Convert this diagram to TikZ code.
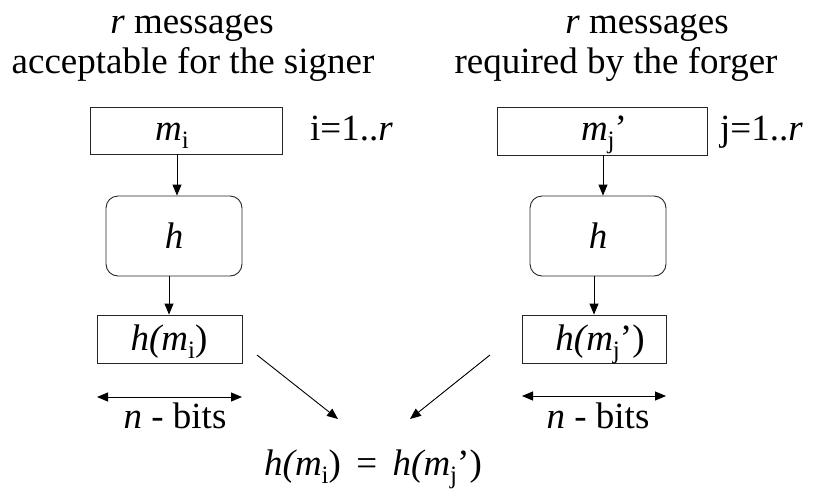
\documentclass[tikz,border=0pt]{standalone}
\usepackage{fontspec}
\setmainfont{Liberation Serif}
\usetikzlibrary{arrows.meta}
\newcommand{\bigfont}{\fontsize{37}{40}\selectfont}
\newcommand{\sbs}[1]{\raisebox{-8pt}{\fontsize{25}{25}\selectfont #1}}
\begin{document}
\begin{tikzpicture}[x=1pt,y=-1pt,
  txt/.style={font=\bigfont, inner sep=0pt, anchor=base},
  box/.style={draw=black!85, line width=0.9pt, inner sep=0pt},
  hbox/.style={box, rounded corners=12pt, minimum width=136pt, minimum height=80pt},
  arr/.style={line width=0.9pt, -{Triangle[length=11pt,width=9pt]}},
  darr/.style={line width=0.9pt, {Triangle[length=11pt,width=9pt]}-{Triangle[length=11pt,width=9pt]}}]
\useasboundingbox (0,0) rectangle (816,491);

% column headings
\node[txt] (tl1) at (192,33) {\textit{r} messages};
\node[txt] (tl2) at (193,73) {acceptable for the signer};
\node[txt] (tr1) at (647,33) {\textit{r} messages};
\node[txt] (tr2) at (616,73) {required by the forger};

% left chain: message, hash, digest
\node[box, minimum width=192pt, minimum height=47pt] (mL) at (186,130.5) {};
\node[txt] (mLt) at (172,140) {\textit{m}\sbs{i}};
\node[txt, anchor=base west] (iL) at (310,140) {i=1..\textit{r}};
\node[hbox] (hL) at (174,236) {};
\node[txt] (hLt) at (174,248) {\textit{h}};
\node[box, minimum width=145pt, minimum height=48pt] (dL) at (169.5,339) {};
\node[txt] (dLt) at (169,350) {\textit{h(m}\sbs{i})};

% right chain: message, hash, digest
\node[box, minimum width=210pt, minimum height=48pt] (mR) at (602,131) {};
\node[txt] (mRt) at (604,140) {\textit{m}\sbs{j}’};
\node[txt, anchor=base west] (jR) at (720,140) {j=1..\textit{r}};
\node[hbox] (hR) at (598,236) {};
\node[txt] (hRt) at (598,248) {\textit{h}};
\node[box, minimum width=144pt, minimum height=48pt] (dR) at (594,339) {};
\node[txt] (dRt) at (600,350) {\textit{h(m}\sbs{j}’)};

% vertical flow
\coordinate (xL1) at (177,0);
\coordinate (xL2) at (169,0);
\coordinate (xR1) at (603,0);
\coordinate (xR2) at (594,0);
\draw[arr] (mL.south -| xL1) -- (hL.north -| xL1);
\draw[arr] (hL.south -| xL2) -- (dL.north -| xL2);
\draw[arr] (mR.south -| xR1) -- (hR.north -| xR1);
\draw[arr] (hR.south -| xR2) -- (dR.north -| xR2);

% digest widths
\coordinate (wL1) at (97,397);
\coordinate (wL2) at (242,397);
\coordinate (wR1) at (522,396);
\coordinate (wR2) at (666,396);
\draw[darr] (wL1) -- (wL2);
\draw[darr] (wR1) -- (wR2);
\node[txt] (bL) at (175,428) {\textit{n} - bits};
\node[txt] (bR) at (598,428) {\textit{n} - bits};

% collision
\node[txt] (eq) at (373,475) {\textit{h(m}\sbs{i}) \,=\, \textit{h(m}\sbs{j}’)};
\coordinate (aL1) at (257,355);
\coordinate (aL2) at (338,419);
\coordinate (aR1) at (490,355);
\coordinate (aR2) at (410,419);
\draw[arr] (aL1) -- (aL2);
\draw[arr] (aR1) -- (aR2);
\end{tikzpicture}
\end{document}
